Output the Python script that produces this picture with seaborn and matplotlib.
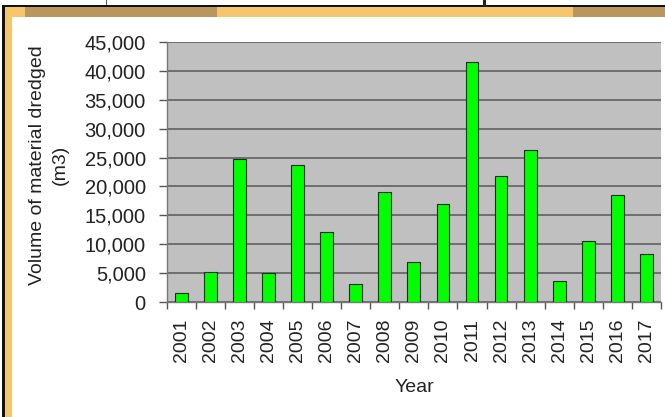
import matplotlib
matplotlib.use("Agg")
import matplotlib.pyplot as plt
import matplotlib.patches as mpatches
import matplotlib.ticker as mticker
import seaborn as sns
import pandas as pd

years = ["2001", "2002", "2003", "2004", "2005", "2006", "2007", "2008", "2009",
         "2010", "2011", "2012", "2013", "2014", "2015", "2016", "2017"]
volumes = [1500, 5200, 24700, 4950, 23700, 12100, 3100, 19000, 7000,
           17000, 41500, 21800, 26300, 3600, 10600, 18500, 8300]
y_ticks = [0, 5000, 10000, 15000, 20000, 25000, 30000, 35000, 40000, 45000]
x_title = "Year"
y_title = "Volume of material dredged\n(m3)"

sns.set_style("white")
plt.rcParams["font.family"] = ["Liberation Sans", "DejaVu Sans"]

df = pd.DataFrame({"Year": years, "Volume": volumes})

W, H = 665, 417
fig = plt.figure(figsize=(W / 100, H / 100), dpi=100)
fig.patch.set_facecolor("white")

# page decoration (screenshot frame)
def px_rect(x0, y0, x1, y1, color):
    fig.add_artist(mpatches.Rectangle((x0 / W, 1 - y1 / H), (x1 - x0) / W, (y1 - y0) / H,
                                      transform=fig.transFigure, facecolor=color,
                                      edgecolor="none", zorder=0))

px_rect(3, 7, 25, 17, "#F5C66C")
px_rect(25, 7, 217, 17, "#B9965B")
px_rect(217, 7, 573, 17, "#F5C66C")
px_rect(573, 7, 665, 17, "#B9965B")
px_rect(5, 7, 12, 417, "#F5C66C")
px_rect(3, 5, 665, 7, "#111111")
px_rect(2, 5, 5, 417, "#111111")
px_rect(483, 0, 486, 7, "#222222")
px_rect(106, 0, 107, 5, "#555555")

ax = fig.add_axes([166.7 / W, 1 - 302 / H, (661 - 166.7) / W, (302 - 42) / H])
ax.set_facecolor("#C0C0C0")

sns.barplot(data=df, x="Year", y="Volume", color="#00FF00", saturation=1,
            width=0.44, edgecolor="#1f2a1f", linewidth=0.8, ax=ax, zorder=3)

ax.set_ylim(0, 45000)
ax.set_xlim(-0.5, len(years) - 0.5)
ax.set_yticks(y_ticks)
ax.yaxis.set_major_formatter(mticker.FuncFormatter(lambda v, p: f"{int(v):,}"))
ax.yaxis.grid(True, color="#6e6e6e", linewidth=1.4, zorder=1)
ax.set_axisbelow(True)

for s in ["top", "right"]:
    ax.spines[s].set_visible(False)
for s in ["left", "bottom"]:
    ax.spines[s].set_color("#777777")
    ax.spines[s].set_linewidth(1.0)

ax.tick_params(axis="y", which="major", direction="out", length=6, width=1,
               color="#555555", labelsize=14.5, pad=9, labelcolor="#222222", left=True)
ax.tick_params(axis="x", which="major", length=0, pad=12, labelsize=14,
               labelcolor="#222222", labelrotation=90)
ax.set_xticks(range(len(years)))
ax.set_xticklabels(years)
ax.set_xticks([i - 0.5 for i in range(len(years) + 1)], minor=True)
ax.tick_params(axis="x", which="minor", direction="out", length=5, width=1,
               color="#555555", bottom=True)

ax.set_xlabel("")
ax.set_ylabel("")
fig.text(414 / W, 1 - 388 / H, x_title, ha="center", va="center",
         fontsize=14, color="#222222")
fig.text(49 / W, 1 - 165 / H, y_title, ha="center", va="center", rotation=90,
         multialignment="center", fontsize=14, color="#222222", linespacing=1.45)

fig.savefig("out.png", dpi=100, facecolor=fig.get_facecolor())
